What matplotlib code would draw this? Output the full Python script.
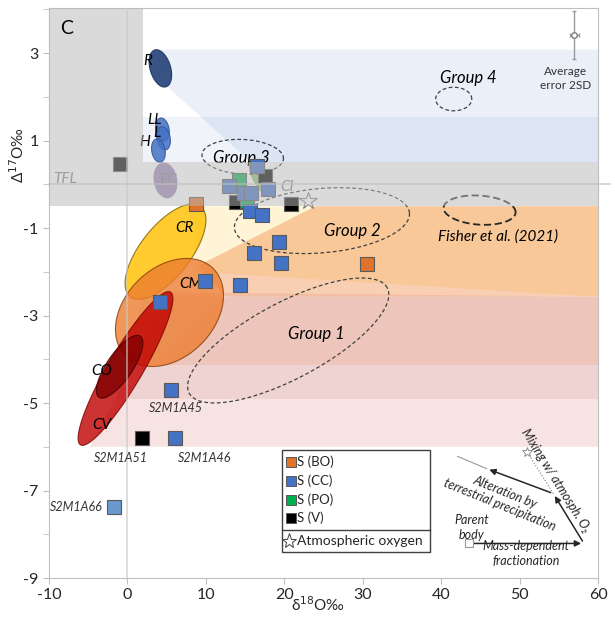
import numpy as np
import matplotlib
matplotlib.use("Agg")
import matplotlib.pyplot as plt
from matplotlib.patches import Polygon, Rectangle

plt.rcParams['font.family'] = ['Lato', 'DejaVu Sans']
plt.rcParams['axes.unicode_minus'] = False

# sample squares: delta18O, Delta17O (permil)
bo_x = [8.7, 30.6]
bo_y = [-0.45, -1.83]
cc_x = [13.0, 14.9, 15.8, 17.9, 16.5, 15.6, 17.2, 19.3, 16.1, 19.6, 14.4, 9.9, 4.2, 5.5, 6.1]
cc_y = [-0.03, -0.21, -0.19, -0.10, 0.42, -0.60, -0.71, -1.33, -1.58, -1.79, -2.31, -2.22, -2.70, -4.71, -5.79]
cc66_x = [-1.7]
cc66_y = [-7.37]
po_x = [14.2, 15.2]
po_y = [0.09, -0.39]
v_x = [-0.9, 17.5, 13.8, 20.9, 1.8]
v_y = [0.47, 0.20, -0.40, -0.44, -5.81]
atm_x = [23.0]
atm_y = [-0.39]

named = {"S2M1A45": (5.5, -4.71), "S2M1A46": (6.1, -5.79),
         "S2M1A51": (1.8, -5.81), "S2M1A66": (-1.7, -7.37)}

# meteorite group fields: centre x, centre y, semi axes (in d18O units), tilt
groups = ["R", "LL", "L", "H", "EC", "CR", "CM", "CV", "CO", "CI"]
g_cx = [4.2, 4.46, 4.6, 3.95, 4.85, 4.85, 5.36, -0.25, -1.0, 17.0]
g_cy = [2.65, 1.25, 1.05, 0.77, 0.09, -1.54, -2.93, -4.21, -4.17, 0.15]
g_a = [2.45, 1.5, 1.5, 1.5, 2.3, 7.3, 7.9, 11.3, 4.7, 2.55]
g_b = [1.3, 0.85, 0.85, 0.85, 1.5, 3.2, 5.7, 2.2, 1.65, 1.05]
g_ang = [107, 100, 100, 100, 100, 52, 45, 59.5, 56, 118]
g_fc = ['#2e4a7d', '#4472c4', '#4472c4', '#4472c4', '#8064a2', '#ffc000',
        '#ed7d31', '#c00000', '#800000', '#70ad47']
g_alpha = [0.95, 0.85, 0.85, 0.85, 0.8, 0.82, 0.8, 0.8, 0.8, 0.75]
g_ec = ['#1f3864', '#2f5597', '#2f5597', '#2f5597', 'none', '#7f6000',
        '#843c0c', '#7f0000', '#400000', 'none']

# dashed sample groups
dash_names = ["Group 1", "Group 2", "Group 3", "Group 4", "Fisher"]
d_cx = [20.5, 24.8, 14.7, 41.6, 44.9]
d_cy = [-3.57, -0.83, 0.63, 1.95, -0.59]
d_a = [14.3, 11.2, 5.2, 2.3, 4.6]
d_b = [4.85, 4.1, 2.2, 1.5, 1.85]
d_ang = [28, 5, -3, 0, -4]

XLIM = (-10, 60)
YLIM = (-9, 4.03)

fig = plt.figure(figsize=(6.15, 6.17), dpi=100)
ax = fig.add_axes([0.0797, 0.0632, 0.8927, 0.9238])
ax.set_xlim(*XLIM)
ax.set_ylim(*YLIM)

# ratio of y to x screen scale, so tilted ovals keep their shape
bb = ax.get_position()
K = (bb.height * 6.17 / (YLIM[1] - YLIM[0])) / (bb.width * 6.15 / (XLIM[1] - XLIM[0]))


def oval(cx, cy, a, b, ang):
    t = np.linspace(0, 2 * np.pi, 181)
    u, v = a * np.cos(t), b * np.sin(t)
    r = np.deg2rad(ang)
    x = cx + u * np.cos(r) - v * np.sin(r)
    y = cy + (u * np.sin(r) + v * np.cos(r)) / K
    return np.column_stack([x, y])


# fans from the group fields towards the right
fans = [
    ([(3.3, 3.08), (60, 3.08), (60, 0.5), (15.8, 0.5), (5.1, 2.23)], '#4472c4', 0.11),
    ([(2.0, 1.53), (60, 1.53), (60, 0.5), (2.0, 0.5)], '#4472c4', 0.08),
    ([(5.5, -2.47), (60, -2.57), (60, -6.0), (-4.8, -6.0)], '#c00000', 0.11),
    ([(2.0, -2.57), (60, -2.57), (60, -4.9), (-1.5, -4.9)], '#800000', 0.075),
    ([(12.5, -2.57), (60, -2.57), (60, -4.14), (3.6, -4.14)], '#ed7d31', 0.15),
    ([(8.7, -0.5), (60, -0.5), (60, -2.57), (8.5, -2.0)], '#ffc000', 0.16),
    ([(9.0, -1.86), (24, -0.5), (60, -0.5), (60, -2.57), (12.5, -2.57)], '#ed7d31', 0.37),
]
for pts, c, al in fans:
    ax.add_patch(Polygon(pts, closed=True, fc=c, ec='none', alpha=al, zorder=1))

for i, g in enumerate(groups):
    ax.add_patch(Polygon(oval(g_cx[i], g_cy[i], g_a[i], g_b[i], g_ang[i]),
                         fc=g_fc[i], alpha=g_alpha[i], ec=g_ec[i], lw=0.8, zorder=2))

for i in range(len(dash_names)):
    fisher = dash_names[i] == "Fisher"
    ax.add_patch(Polygon(oval(d_cx[i], d_cy[i], d_a[i], d_b[i], d_ang[i]), fill=False,
                         ec='#262626' if fisher else '#404040', lw=1.3 if fisher else 0.9,
                         ls=(0, (4, 2)) if fisher else (0, (3, 2)), zorder=3))

# field labels
lab_kw = dict(style='italic', fontsize=11, ha='center', va='center', zorder=3)
grp_kw = dict(lab_kw, fontsize=12)
ax.text(2.6, 2.83, "R", **lab_kw)
ax.text(3.4, 1.48, "LL", **lab_kw)
ax.text(3.7, 1.17, "L", **lab_kw)
ax.text(2.2, 0.97, "H", **lab_kw)
ax.text(5.2, 0.09, "EC", color='#7f7f7f', **lab_kw)
ax.text(-8.0, 0.13, "TFL", color='#7f7f7f', **lab_kw)
ax.text(7.3, -0.99, "CR", **lab_kw)
ax.text(8.0, -2.29, "CM", **lab_kw)
ax.text(-3.3, -4.26, "CO", **lab_kw)
ax.text(-3.3, -5.51, "CV", **lab_kw)
ax.text(20.3, -0.07, "CI", color='#7f7f7f', **lab_kw)
ax.text(14.5, 0.61, "Group 3", **grp_kw)
ax.text(43.4, 2.44, "Group 4", **grp_kw)
ax.text(28.7, -1.06, "Group 2", **grp_kw)
ax.text(24.1, -3.43, "Group 1", **grp_kw)
ax.text(47.3, -1.19, "Fisher et al. (2021)", style='italic', fontsize=11,
        ha='center', va='center', zorder=3)
ax.text(-7.8, 3.56, "C", fontsize=14, ha='center', va='center', zorder=6)

# samples
sq = dict(marker='s', ms=10, ls='none', mec='#595959', mew=0.8, zorder=4)
ax.plot(v_x, v_y, mfc='black', **sq)
ax.plot(po_x, po_y, mfc='#00b050', **sq)
ax.plot(cc_x, cc_y, mfc='#4472c4', **sq)
ax.plot(cc66_x, cc66_y, mfc='#6a98cf', **sq)
ax.plot(bo_x, bo_y, mfc='#e0722a', **sq)
ax.plot(atm_x, atm_y, marker='*', ms=13, mfc='white', mec='#7f7f7f', mew=0.8,
        ls='none', zorder=4)

# terrestrial band (translucent, over the samples)
ax.add_patch(Polygon([(-10, YLIM[1]), (2.0, YLIM[1]), (2.0, 0.5), (60, 0.5),
                      (60, -0.5), (-10, -0.5)], fc='#b9b9b9', alpha=0.52,
                     ec='none', zorder=5))
ax.plot([-10, 61.5], [0, 0], color='#bfbfbf', lw=1.2, alpha=0.7, zorder=5, clip_on=False)
ax.axvline(0, color='#c8c8c8', lw=1.2, alpha=0.7, zorder=5)

offs = {"S2M1A45": (4, -13, 'center'), "S2M1A46": (21, -15, 'center'),
        "S2M1A51": (-15, -14, 'center'), "S2M1A66": (-8, 0, 'right')}
for name, (x, y) in named.items():
    dx, dy, ha = offs[name]
    ax.annotate(name, (x, y), xytext=(dx, dy), textcoords='offset points',
                ha=ha, va='center', style='italic', fontsize=9,
                color='#333333', zorder=6)

# average analytical error
ax.errorbar([57.0], [3.42], xerr=[0.57], yerr=[0.55], fmt='o', ms=4, mfc='white',
            mec='#7f7f7f', ecolor='#9a9a9a', elinewidth=1, capsize=1.5, zorder=6)
ax.text(55.9, 2.42, "Average\nerror 2SD", fontsize=8.5, ha='center', va='center',
        color='#333333', linespacing=1.3, zorder=6)

# process arrows
pb = (43.6, -8.21)
mdf = (58.2, -8.21)
junc = (54.3, -7.07)
alt = (45.8, -6.5)
alt_ext = (42.1, -6.22)
star = (51.0, -6.13)
arr = dict(arrowstyle='-|>', color='#262626', lw=1.1, mutation_scale=9)
ax.annotate("", xy=mdf, xytext=pb, arrowprops=arr, zorder=6)
ax.annotate("", xy=junc, xytext=mdf, arrowprops=arr, zorder=6)
ax.annotate("", xy=alt, xytext=junc, arrowprops=arr, zorder=6)
ax.plot([alt[0], alt_ext[0]], [alt[1], alt_ext[1]], color='#9a9a9a', lw=0.8, zorder=6)
ax.plot([junc[0], star[0]], [junc[1], star[1]], color='#7f7f7f', lw=0.8, ls=':', zorder=6)
ax.plot([star[0]], [star[1]], marker='*', ms=7, mfc='white', mec='#7f7f7f', mew=0.6, zorder=6)
ax.plot([pb[0]], [pb[1]], marker='s', ms=6, mfc='white', mec='#9a9a9a', mew=0.8, zorder=6)
small = dict(style='italic', fontsize=9, ha='center', va='center', color='#262626', zorder=6)
ax.text(43.9, -7.85, "Parent\nbody", linespacing=1.3, **small)
ax.text(50.8, -8.45, "Mass-dependent\nfractionation", linespacing=1.3, **small)
ax.text(47.8, -7.18, "Alteration by\nterrestrial precipitation", rotation=-22,
        rotation_mode='anchor', linespacing=1.1, **small)
ax.text(54.6, -6.77, "Mixing w/ atmosph. O₂", rotation=-58, rotation_mode='anchor', **small)

# legend
ta = ax.transAxes
ax.add_patch(Rectangle((0.424, 0.0456), 0.27, 0.179, transform=ta, fc='white',
                       ec='#404040', lw=1, zorder=7))
ax.plot([0.424, 0.694], [0.0842, 0.0842], transform=ta, color='#404040', lw=1, zorder=8)
leg_lab = ["S (BO)", "S (CC)", "S (PO)", "S (V)"]
leg_col = ['#e0722a', '#4472c4', '#00b050', 'black']
leg_y = [0.2035, 0.170, 0.1368, 0.1053]
for lab, c, yy in zip(leg_lab, leg_col, leg_y):
    ax.plot([0.4408], [yy], transform=ta, marker='s', ms=7, mfc=c, mec='#595959',
            mew=0.7, zorder=8)
    ax.text(0.4517, yy, lab, transform=ta, fontsize=9.5, va='center', color='#262626', zorder=8)
ax.plot([0.437], [0.0649], transform=ta, marker='*', ms=11, mfc='white', mec='#404040',
        mew=0.7, zorder=8)
ax.text(0.4517, 0.0649, "Atmospheric oxygen", transform=ta, fontsize=10, va='center',
        color='#262626', zorder=8)

# axes styling
ax.set_xticks([-10, 0, 10, 20, 30, 40, 50, 60])
ax.set_yticks([-9, -7, -5, -3, -1, 1, 3])
ax.set_yticks(np.arange(-9, 5), minor=True)
for s in ax.spines.values():
    s.set_color('#bfbfbf')
ax.tick_params(which='both', direction='out', length=4, color='#bfbfbf',
               labelsize=11.5, labelcolor='#262626')
ax.set_xlabel("δ$^{18}$O‰", fontsize=11, color='#262626')
ax.xaxis.label.set_va('center')
ax.xaxis.set_label_coords(0.489, -0.046)
ax.set_ylabel("Δ$^{17}$O‰", fontsize=11, color='#262626')
ax.yaxis.label.set_va('center')
ax.yaxis.set_label_coords(-0.057, 0.742)

fig.savefig("out.png", dpi=100)
